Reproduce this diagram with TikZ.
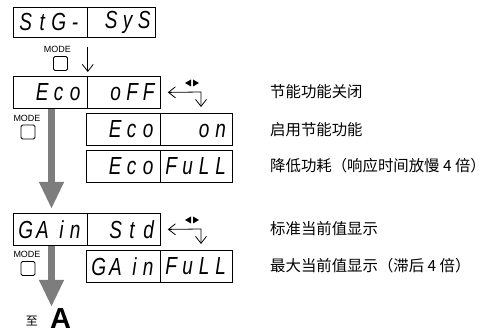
\documentclass[tikz,border=0pt]{standalone}
\usepackage{fontspec}
\usepackage{graphicx}
\setmainfont{Liberation Sans}
\newfontfamily\cjk{Noto Sans CJK SC}
\newfontfamily\segf{Liberation Sans}
\usetikzlibrary{arrows.meta}
\newcommand\sg[1]{\makebox[16.5pt][c]{#1}}
\newcommand\sgn[1]{\makebox[11pt][c]{#1}}
\newcommand\segtxt[1]{\scalebox{1}[1.3]{\fontsize{19}{19}\selectfont\itshape\vphantom{E}#1}}
\definecolor{arrgray}{HTML}{7D7D7D}
\begin{document}
\begin{tikzpicture}[x=1pt,y=-1pt,
  disp/.style={draw, line width=0.8pt, minimum height=32pt, inner sep=0pt, anchor=north west, font=\segf},
  modelbl/.style={font=\fontsize{9}{9}\selectfont, inner sep=0pt},
  modekey/.style={draw, line width=0.8pt, rounded corners=1.5pt, minimum width=14pt, minimum height=14pt, inner sep=0pt},
  barb/.tip={Straight Barb[length=7pt,width=11pt,line width=0.8pt]},
  thinarr/.style={line width=0.8pt, -barb},
  retarr/.style={line width=0.8pt, barb-barb},
  bigarr/.style={draw=arrgray, line width=7pt, -{Triangle[length=27pt,width=23pt]}, arrgray},
  desc/.style={font=\cjk\fontsize{15.4}{17}\selectfont, anchor=west, inner sep=0pt}]
\useasboundingbox (0,0) rectangle (491,334);
% displays
\node[disp, minimum width=74pt, minimum height=30pt] (b1l) at (13,7) {\makebox[66pt][r]{\segtxt{\sg{S}\sg{t}\sg{G}\sg{-}}}};
\node[disp, minimum width=68pt, minimum height=30pt] (b1r) at (87,7) {\makebox[62pt][r]{\segtxt{\sg{S}\sg{y}\sg{S}}}};
\node[disp, minimum width=74pt] (b2l) at (13,76) {\makebox[66pt][r]{\segtxt{\sg{E}\sg{c}\sg{o}}}};
\node[disp, minimum width=73pt] (b2r) at (87,76) {\makebox[66pt][r]{\segtxt{\sg{o}\sg{F}\sg{F}}}};
\node[disp, minimum width=74pt] (b3l) at (86,113) {\makebox[66pt][r]{\segtxt{\sg{E}\sg{c}\sg{o}}}};
\node[disp, minimum width=72pt] (b3r) at (160,113) {\makebox[65pt][r]{\segtxt{\sg{o}\sg{n}}}};
\node[disp, minimum width=74pt] (b4l) at (86,150) {\makebox[66pt][r]{\segtxt{\sg{E}\sg{c}\sg{o}}}};
\node[disp, minimum width=72pt] (b4r) at (160,150) {\makebox[65pt][r]{\segtxt{\sg{F}\sg{u}\sg{L}\sg{L}}}};
\node[disp, minimum width=74pt] (b5l) at (13,213) {\makebox[66pt][r]{\segtxt{\sg{G}\sg{A} \sgn{i}\sg{n}}}};
\node[disp, minimum width=73pt] (b5r) at (87,213) {\makebox[66pt][r]{\segtxt{\sg{S}\sg{t}\sg{d}}}};
\node[disp, minimum width=74pt] (b6l) at (86,250) {\makebox[66pt][r]{\segtxt{\sg{G}\sg{A} \sgn{i}\sg{n}}}};
\node[disp, minimum width=72pt] (b6r) at (160,250) {\makebox[65pt][r]{\segtxt{\sg{F}\sg{u}\sg{L}\sg{L}}}};
% MODE keys
\node[modelbl] (m1) at (57.5,49.5) {MODE};
\node[modekey] (k1) at (60.5,63.5) {};
\node[modelbl] (m2) at (27,118) {MODE};
\node[modekey] (k2) at (28,132) {};
\node[modelbl] (m3) at (27,254.5) {MODE};
\node[modekey] (k3) at (28,268.5) {};
% thin down arrow
\draw[thinarr] ([yshift=-9pt]b1l.south east) -- ([yshift=4pt]b2l.north east);
% return arrows
\coordinate (r1s) at ([xshift=7pt]b2r.east);
\coordinate (r1c) at (201,92);
\coordinate (r1e) at (201,107);
\draw[retarr] (r1s) -- (r1c) -- (r1e);
\fill (185,83) -- (191,79.5) -- (191,86.5) -- cycle;
\fill (199,83) -- (193,79.5) -- (193,86.5) -- cycle;
\coordinate (r2s) at ([xshift=7pt]b5r.east);
\coordinate (r2c) at (201,229);
\coordinate (r2e) at (201,244);
\draw[retarr] (r2s) -- (r2c) -- (r2e);
\fill (185,220) -- (191,216.5) -- (191,223.5) -- cycle;
\fill (199,220) -- (193,216.5) -- (193,223.5) -- cycle;
% big gray arrows
\draw[bigarr] ([xshift=38.5pt]b2l.south west) -- ([xshift=38.5pt,yshift=4pt]b5l.north west);
\coordinate (toA) at (51.5,307);
\draw[bigarr] ([xshift=38.5pt]b5l.south west) -- (toA);
% to A
\node[font=\cjk\fontsize{12}{12}\selectfont, inner sep=0pt] (zhi) at (32,321) {至};
\node[font=\bfseries\fontsize{29}{29}\selectfont, inner sep=0pt, anchor=base west] (lblA) at (50,328.5) {A};
% descriptions
\node[desc] (t1) at (270,92) {节能功能关闭};
\node[desc] (t2) at (270,129.5) {启用节能功能};
\node[desc] (t3) at (270,166) {降低功耗（响应时间放慢 4 倍）};
\node[desc] (t4) at (270,229) {标准当前值显示};
\node[desc] (t5) at (270,266) {最大当前值显示（滞后 4 倍）};
\end{tikzpicture}
\end{document}
